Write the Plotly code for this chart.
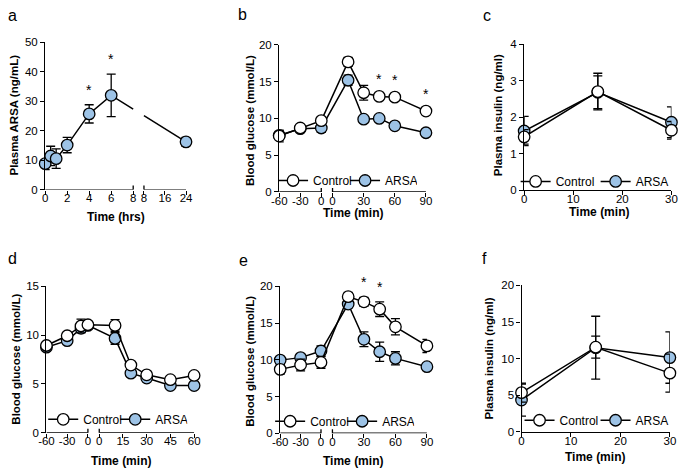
import plotly.graph_objects as go

W, H = 685, 475
FONT = "Liberation Sans, Arial, Helvetica, sans-serif"
BLUE = "#9DC3E6"
LW = 1.3

# ---------------- data ----------------
# a: plasma ARSA after injection
a_time = [0, 0.5, 1, 2, 4, 6, 24]
a_arsa = [8.8, 11.4, 10.5, 15.1, 25.7, 32.0, 16.2]
a_arsa_sem = [2.0, 3.3, 3.3, 2.6, 3.1, 7.2, 1.5]
a_sig = [4, 6]

# b: blood glucose
b_time = [-60, -30, 0, 15, 30, 45, 60, 90]
b_ctrl = [7.6, 8.7, 9.7, 17.7, 13.5, 13.0, 12.9, 11.0]
b_ctrl_sem = [0.8, 0.4, 0.4, 0.6, 1.0, 0.3, 0.3, 0.3]
b_arsa = [7.7, 8.6, 8.7, 15.2, 9.9, 10.0, 9.0, 8.05]
b_arsa_sem = [0.6, 0.3, 0.6, 0.7, 0.3, 0.3, 0.3, 0.3]
b_sig = [45, 60, 90]

# c: plasma insulin
c_time = [0, 15, 30]
c_ctrl = [1.46, 2.7, 1.64]
c_ctrl_sem = [0.2, 0.5, 0.24]
c_arsa = [1.62, 2.68, 1.86]
c_arsa_sem = [0.4, 0.45, 0.42]

# d: blood glucose
d_time = [-60, -30, -10, 0, 10, 20, 30, 45, 60]
d_ctrl = [8.94, 9.94, 10.94, 11.07, 11.0, 6.93, 5.93, 5.43, 5.87]
d_ctrl_sem = [0.3, 0.3, 0.7, 0.3, 0.6, 0.3, 0.3, 0.3, 0.3]
d_arsa = [8.77, 9.44, 10.7, 11.0, 9.67, 6.1, 5.6, 4.83, 4.83]
d_arsa_sem = [0.3, 0.3, 0.4, 0.3, 0.6, 0.3, 0.3, 0.3, 0.3]

# e: blood glucose
e_time = [-60, -30, 0, 15, 30, 45, 60, 90]
e_ctrl = [8.7, 9.3, 9.65, 18.6, 17.9, 16.9, 14.5, 11.9]
e_ctrl_sem = [0.65, 0.8, 0.8, 0.6, 0.6, 1.0, 1.1, 0.9]
e_arsa = [9.96, 10.3, 11.2, 17.6, 12.8, 11.1, 10.2, 9.07]
e_arsa_sem = [0.4, 0.4, 0.7, 0.5, 1.0, 1.3, 0.9, 0.3]
e_sig = [30, 45]

# f: plasma insulin
f_time = [0, 15, 30]
f_ctrl = [5.37, 11.57, 8.03]
f_ctrl_sem = [1.3, 1.5, 2.6]
f_arsa = [4.35, 11.5, 10.15]
f_arsa_sem = [2.2, 4.3, 3.5]


def make_map(segs, gap):
    # piecewise time -> pixel-like axis units, for the broken x axes
    starts, x0 = [], 0
    for t0, t1, w in segs:
        starts.append(x0)
        x0 += w + gap
    total = x0 - gap

    def f(t, seg=None):
        if seg is None:
            seg = next(i for i, s in enumerate(segs) if t <= s[1])
        t0, t1, w = segs[seg]
        return starts[seg] + (t - t0) / (t1 - t0) * w
    return f, starts, total


fig = go.Figure()
layout = {}
shapes = []
annotations = []


def paper(x, y):
    return x / W, 1 - y / H


def add_text(text, x, y, size, angle=0, bold=False):
    px, py = paper(x, y)
    annotations.append(dict(
        text=f"<b>{text}</b>" if bold else text, x=px, y=py, xref="paper", yref="paper",
        showarrow=False, textangle=angle, xanchor="center", yanchor="middle",
        font=dict(family=FONT, size=size, color="black")))


def panel(n, xpx, ypx, segs, gap, ticks, ymax, dtick, series, sig=None,
          legend=None, break_line=False):
    sfx = "" if n == 1 else str(n)
    xa, ya = "x" + sfx, "y" + sfx
    f, starts, total = make_map(segs, gap)
    broken = len(segs) > 1

    tickvals, ticktext = [], []
    for i, tk in enumerate(ticks):
        for t in tk:
            tickvals.append(f(t, i))
            ticktext.append(f"{t:g}")

    tickfont = dict(family=FONT, size=11.5, color="black")
    layout["xaxis" + sfx] = dict(
        domain=[xpx[0] / W, xpx[1] / W], range=[0, total], anchor=ya,
        showline=not broken, linecolor="black", linewidth=LW, showgrid=False,
        zeroline=False, ticks="outside", ticklen=4, tickwidth=LW, tickcolor="black",
        tickmode="array", tickvals=tickvals, ticktext=ticktext, tickfont=tickfont,
        ticklabelstandoff=-6, fixedrange=True)
    layout["yaxis" + sfx] = dict(
        domain=[1 - ypx[1] / H, 1 - ypx[0] / H], range=[0, ymax], anchor=xa,
        showline=True, linecolor="black", linewidth=LW, showgrid=False,
        zeroline=False, ticks="outside", ticklen=4, tickwidth=LW, tickcolor="black",
        dtick=dtick, tick0=0, tickfont=tickfont, fixedrange=True)

    if broken:
        for i, (t0, t1, w) in enumerate(segs):
            shapes.append(dict(type="line", xref=xa, yref=ya, x0=starts[i], x1=starts[i] + w,
                               y0=0, y1=0, line=dict(color="black", width=LW)))
        for xb in (starts[0] + segs[0][2], starts[1]):
            shapes.append(dict(type="line", xref=xa, yref=ya, ysizemode="pixel", yanchor=0,
                               x0=xb, x1=xb, y0=-4, y1=4, line=dict(color="black", width=LW)))

    for rank, (name, t, y, err, fill) in enumerate(series):
        u = [f(v) for v in t]
        common = dict(xaxis=xa, yaxis=ya, cliponaxis=False, name=name)
        if break_line:
            lx, ly = [u[0]], [y[0]]
            for k in range(1, len(u)):
                s_prev = next(i for i, s in enumerate(segs) if t[k - 1] <= s[1])
                s_cur = next(i for i, s in enumerate(segs) if t[k] <= s[1])
                if s_prev != s_cur:
                    e_u = starts[s_prev] + segs[s_prev][2]
                    b_u = starts[s_cur]
                    slope = (y[k] - y[k - 1]) / (u[k] - u[k - 1])
                    lx += [e_u, None, b_u]
                    ly += [y[k - 1] + slope * (e_u - u[k - 1]), None,
                           y[k - 1] + slope * (b_u - u[k - 1])]
                lx.append(u[k])
                ly.append(y[k])
            fig.add_trace(go.Scatter(x=lx, y=ly, mode="lines", showlegend=False,
                                     line=dict(color="black", width=1.5), hoverinfo="skip",
                                     xaxis=xa, yaxis=ya))
            mode = "markers"
        else:
            mode = "lines+markers"
        fig.add_trace(go.Scatter(
            x=u, y=y, mode=mode, **common,
            line=dict(color="black", width=1.5),
            marker=dict(size=11.5, color=fill, line=dict(color="black", width=LW)),
            error_y=dict(type="data", array=err, color="black", thickness=LW, width=4.5),
            showlegend=legend is not None,
            legend=legend[0] if legend else None,
            legendrank=2 - rank if legend else None))
        if sig and name == series[-1][0]:
            for ts in sig:
                k = t.index(ts)
                annotations.append(dict(
                    text="*", x=u[k], y=y[k] + err[k], xref=xa, yref=ya, showarrow=False,
                    xanchor="center", yanchor="bottom", yshift=5,
                    font=dict(family=FONT, size=14, color="black")))

    if legend:
        key, lx, lyy, ew = legend
        px, py = paper(lx, lyy)
        layout[key] = dict(orientation="h", x=px, y=py, xanchor="left", yanchor="middle",
                           bgcolor="rgba(0,0,0,0)", itemwidth=30, entrywidth=ew,
                           font=dict(family=FONT, size=12, color="black"))


# draw ARSA first so Control sits on top; legend rank puts Control first
panel(1, (38, 182), (37.3, 188.3), [(0, 8, 90), (8, 24, 43)], 11,
      [[0, 2, 4, 6, 8], [8, 16, 24]], 50, 10,
      [("ARSA", a_time, a_arsa, a_arsa_sem, BLUE)], sig=a_sig, break_line=True)
panel(2, (277.3, 427.3), (40, 190.7), [(-60, 0, 43), (0, 90, 95.5)], 11.5,
      [[-60, -30, 0], [0, 30, 60, 90]], 20, 5,
      [("ARSA", b_time, b_arsa, b_arsa_sem, BLUE),
       ("Control", b_time, b_ctrl, b_ctrl_sem, "white")], sig=b_sig,
      legend=("legend", 271, 179, 27))
panel(3, (527.7, 678.3), (39, 189), [(0, 30, 150.6)], 0,
      [[0, 10, 20, 30]], 4, 1,
      [("ARSA", c_time, c_arsa, c_arsa_sem, BLUE),
       ("Control", c_time, c_ctrl, c_ctrl_sem, "white")],
      legend=("legend2", 519, 180, 35))
panel(4, (39.3, 190.3), (287.7, 437.7), [(-60, 0, 42.4), (0, 60, 97)], 11.6,
      [[-60, -30, 0], [0, 15, 30, 45, 60]], 15, 5,
      [("ARSA", d_time, d_arsa, d_arsa_sem, BLUE),
       ("Control", d_time, d_ctrl, d_ctrl_sem, "white")],
      legend=("legend3", 36, 424, 27))
panel(5, (278.3, 428.3), (287.7, 438.3), [(-60, 0, 41.7), (0, 90, 96.6)], 11.7,
      [[-60, -30, 0], [0, 30, 60, 90]], 20, 5,
      [("ARSA", e_time, e_arsa, e_arsa_sem, BLUE),
       ("Control", e_time, e_ctrl, e_ctrl_sem, "white")], sig=e_sig,
      legend=("legend4", 268, 426, 27))
panel(6, (525, 676.7), (286.7, 437), [(0, 30, 151.7)], 0,
      [[0, 10, 20, 30]], 20, 5,
      [("ARSA", f_time, f_arsa, f_arsa_sem, BLUE),
       ("Control", f_time, f_ctrl, f_ctrl_sem, "white")],
      legend=("legend5", 523, 425, 31))

# panel letters
for letter, x, y in [("a", 5, 10), ("b", 240, 9), ("c", 490, 10),
                     ("d", 5, 259), ("e", 241, 261), ("f", 487, 259)]:
    add_text(letter, x, y, 16)

# axis titles
add_text("Plasma ARSA (ng/mL)", 6.5, 112, 11.5, angle=-90, bold=True)
add_text("Time (hrs)", 110, 216.5, 12, bold=True)
add_text("Blood glucose (mmol/L)", 247.5, 118, 11.5, angle=-90, bold=True)
add_text("Time (min)", 353, 212, 12, bold=True)
add_text("Plasma insulin (ng/ml)", 501, 112, 11.5, angle=-90, bold=True)
add_text("Time (min)", 604, 211.5, 12, bold=True)
add_text("Blood glucose (mmol/L)", 8, 362, 11.5, angle=-90, bold=True)
add_text("Time (min)", 116, 467, 12, bold=True)
add_text("Blood glucose (mmol/L)", 247.5, 365, 11.5, angle=-90, bold=True)
add_text("Time (min)", 353, 467, 12, bold=True)
add_text("Plasma insulin (ng/ml)", 491.5, 362, 11.5, angle=-90, bold=True)
add_text("Time (min)", 600, 463, 12, bold=True)

fig.update_layout(
    **layout,
    width=W, height=H,
    margin=dict(l=0, r=0, t=0, b=0),
    paper_bgcolor="white", plot_bgcolor="white",
    font=dict(family=FONT, size=11, color="black"),
    shapes=shapes, annotations=annotations,
    hovermode=False,
)

# drop the browser's default 8px page margin so the figure sits at the window corner
fig.write_html("out.html", config={"displayModeBar": False},
               post_script="document.body.style.margin='0px';")
